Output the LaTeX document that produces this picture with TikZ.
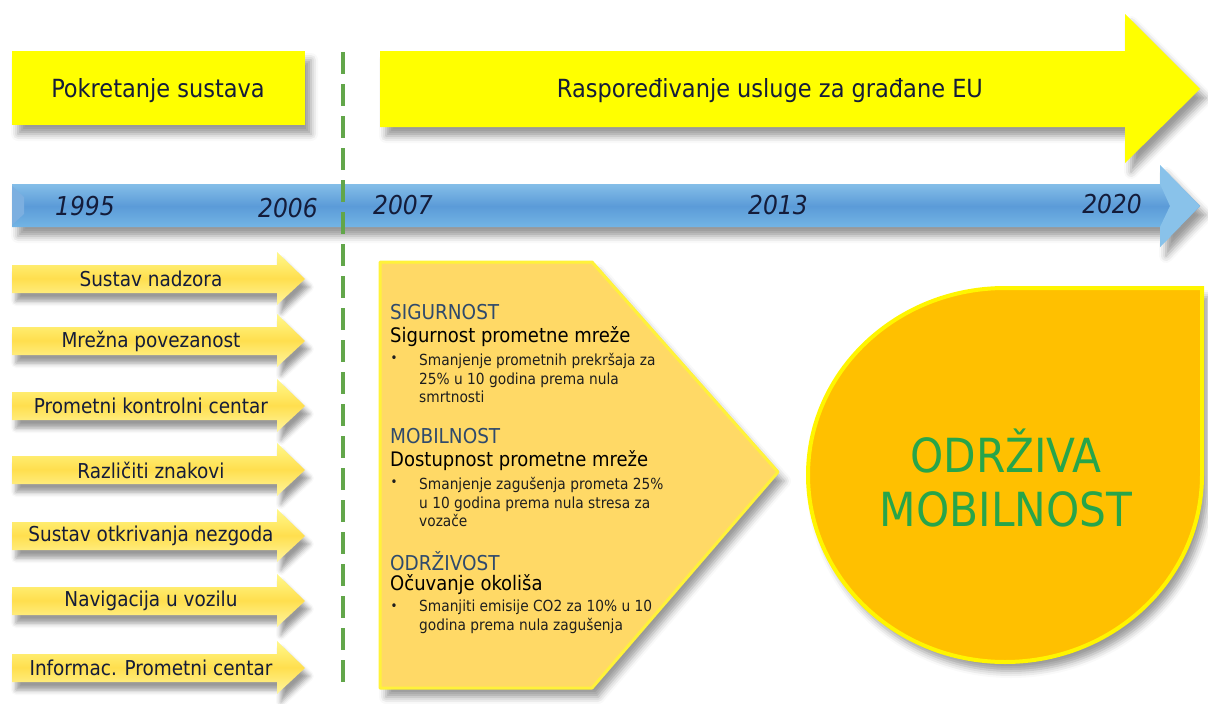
\documentclass[tikz,border=0pt]{standalone}
\usepackage{fontspec}
\setmainfont{DejaVu Sans Condensed}
\usetikzlibrary{shadows.blur}
\definecolor{brightyellow}{HTML}{FFFF00}
\definecolor{arrowtop}{HTML}{FFF88C}
\definecolor{arrowmid}{HTML}{FFDF4E}
\definecolor{arrowbot}{HTML}{FFF6A0}
\definecolor{bluetop}{HTML}{A8DCF6}
\definecolor{bluemid}{HTML}{5B9BD8}
\definecolor{bluebot}{HTML}{8ACDF0}
\definecolor{chevfill}{HTML}{FFD966}
\definecolor{chevedge}{HTML}{FFF23A}
\definecolor{dropfill}{HTML}{FFC000}
\definecolor{dropedge}{HTML}{FFF500}
\definecolor{dashgreen}{HTML}{62A64A}
\definecolor{navytext}{HTML}{141C3A}
\definecolor{headblue}{HTML}{2F4A6C}
\definecolor{bodytext}{HTML}{1E1E1E}
\definecolor{greentext}{HTML}{27A54A}
\begin{document}
\begin{tikzpicture}[x=1pt,y=-1pt,
  shd/.style={blur shadow={shadow xshift=6pt,shadow yshift=-9pt,shadow blur radius=7pt,shadow opacity=40}},
  smallshd/.style={blur shadow={shadow xshift=4pt,shadow yshift=-8pt,shadow blur radius=5pt,shadow opacity=40}},
  lbl/.style={inner sep=0pt,text=navytext},
  year/.style={inner sep=0pt,text=navytext,font=\fontsize{26}{30}\selectfont\itshape},
  arrowtxt/.style={inner sep=0pt,text=navytext,font=\fontsize{20.5}{24}\selectfont},
  cathead/.style={inner sep=0pt,anchor=west,text=headblue,font=\fontsize{20.5}{24}\selectfont},
  catsub/.style={inner sep=0pt,anchor=west,text=black,font=\fontsize{20}{24}\selectfont},
  bultxt/.style={inner sep=0pt,anchor=west,align=left,text=bodytext,font=\fontsize{15.3}{18.5}\selectfont},
  bulmark/.style={inner sep=0pt,text=bodytext,font=\fontsize{13}{16}\selectfont}]
\useasboundingbox (0,0) rectangle (1208,704);

% top boxes
\fill[brightyellow,shd] (12,51) rectangle (305,125);
\node[lbl,font=\fontsize{25}{29}\selectfont] (pokret) at (158,91) {Pokretanje sustava};

\fill[brightyellow,shd] (380,51) -- (1125,51) -- (1125,14) -- (1200,89) -- (1125,163) -- (1125,127) -- (380,127) -- cycle;
\node[lbl,font=\fontsize{25}{29}\selectfont] (raspor) at (770,91) {Raspoređivanje usluge za građane EU};

% blue timeline
\path[shd,top color=bluetop,bottom color=bluebot,middle color=bluemid]
  (12,184) -- (1160,184) -- (1160,165) -- (1200,206) -- (1160,247) -- (1160,227) -- (12,227) -- cycle;
\fill[bluemid!80!white] (12,186) -- (24,197) -- (24,214) -- (12,225) -- cycle;
\fill[bluetop!60!bluemid] (1160,184) -- (1160,165) -- (1200,206) -- (1160,247) -- (1160,227) -- (1170,206) -- cycle;
\node[year] (y1995) at (85,206) {1995};
\node[year] (y2006) at (288,208) {2006};
\node[year] (y2007) at (403,205) {2007};
\node[year] (y2013) at (778,205) {2013};
\node[year] (y2020) at (1112,204) {2020};

% left arrows
\foreach \c/\t/\n in {279/Sustav nadzora/la1, 341/Mrežna povezanost/la2, 406/Prometni kontrolni centar/la3,
   470/Različiti znakovi/la4, 536/Sustav otkrivanja nezgoda/la5, 601/Navigacija u vozilu/la6,
   668/Informac. Prometni centar/la7}{
  \path[smallshd,top color=arrowtop,bottom color=arrowbot,middle color=arrowmid]
    (12,\c-14) -- (277,\c-14) -- (277,\c-27) -- (305,\c) -- (277,\c+26) -- (277,\c+14) -- (12,\c+14) -- cycle;
  \node[arrowtxt] (\n) at (151,\c) {\t};
}

% dashed separator
\coordinate (dtop) at (343,52);
\coordinate (dbot) at (343,686);
\draw[dashgreen,line width=4pt,dash pattern=on 22pt off 10pt] (dtop) -- (dbot);

% chevron
\filldraw[shd,fill=chevfill,draw=chevedge,line width=3pt,line join=round]
  (380,262) -- (592,262) -- (778,472) -- (592,688) -- (380,688) -- cycle;

\node[cathead] (sig) at (390,312) {SIGURNOST};
\node[catsub] (sigs) at (390,337) {Sigurnost prometne mreže};
\node[bulmark] (b1) at (394,359) {•};
\node[bultxt] (t1) at (419,378) {Smanjenje prometnih prekršaja za\\25\% u 10 godina prema nula\\smrtnosti};

\node[cathead] (mob) at (390,436) {MOBILNOST};
\node[catsub] (mobs) at (390,461) {Dostupnost prometne mreže};
\node[bulmark] (b2) at (394,483) {•};
\node[bultxt] (t2) at (419,502) {Smanjenje zagušenja prometa 25\%\\u 10 godina prema nula stresa za\\vozače};

\node[cathead] (odr) at (390,561) {ODRŽIVOST};
\node[catsub] (odrs) at (390,585) {Očuvanje okoliša};
\node[bulmark] (b3) at (394,607) {•};
\node[bultxt] (t3) at (419,617) {Smanjiti emisije CO2 za 10\% u 10\\godina prema nula zagušenja};

% drop
\filldraw[shd,fill=dropfill,draw=dropedge,line width=4pt]
  (808,475) arc[start angle=180,end angle=270,x radius=197,y radius=187]
  -- (1202,288) -- (1202,475)
  arc[start angle=0,end angle=90,x radius=197,y radius=187]
  arc[start angle=90,end angle=180,x radius=197,y radius=187] -- cycle;
\node[inner sep=0pt,align=center,text=greentext,font=\fontsize{47}{54}\selectfont] (odrmob) at (1006,478) {ODRŽIVA\\MOBILNOST};
\end{tikzpicture}
\end{document}
